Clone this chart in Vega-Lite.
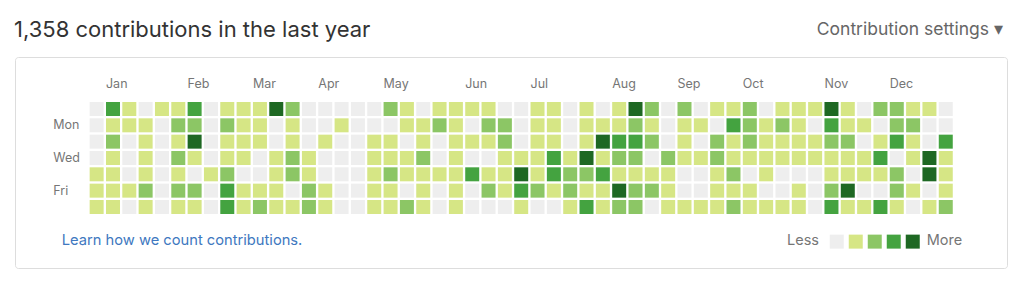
{
  "$schema": "https://vega.github.io/schema/vega-lite/v6.json",
  "width": 992,
  "height": 211,
  "autosize": {"type": "none"},
  "padding": {"left": 15, "top": 57, "right": 17, "bottom": 19},
  "background": "white",
  "config": {
    "view": {"stroke": "#dddddd", "cornerRadius": 3, "strokeWidth": 1},
    "font": "Inter"
  },
  "title": {
    "text": "1,358 contributions in the last year",
    "anchor": "start",
    "fontSize": 22,
    "fontWeight": "normal",
    "color": "#333333",
    "font": "Inter",
    "offset": -37.5,
    "baseline": "alphabetic",
    "dx": -1
  },
  "datasets": {
    "cells": [
      {"w":0,"d":0,"l":0},{"w":0,"d":1,"l":0},{"w":0,"d":2,"l":0},{"w":0,"d":3,"l":0},{"w":0,"d":4,"l":1},{"w":0,"d":5,"l":1},{"w":0,"d":6,"l":1},
      {"w":1,"d":0,"l":3},{"w":1,"d":1,"l":1},{"w":1,"d":2,"l":2},{"w":1,"d":3,"l":1},{"w":1,"d":4,"l":1},{"w":1,"d":5,"l":1},{"w":1,"d":6,"l":1},
      {"w":2,"d":0,"l":1},{"w":2,"d":1,"l":1},{"w":2,"d":2,"l":0},{"w":2,"d":3,"l":0},{"w":2,"d":4,"l":0},{"w":2,"d":5,"l":1},{"w":2,"d":6,"l":0},
      {"w":3,"d":0,"l":0},{"w":3,"d":1,"l":1},{"w":3,"d":2,"l":1},{"w":3,"d":3,"l":1},{"w":3,"d":4,"l":1},{"w":3,"d":5,"l":2},{"w":3,"d":6,"l":1},
      {"w":4,"d":0,"l":1},{"w":4,"d":1,"l":0},{"w":4,"d":2,"l":0},{"w":4,"d":3,"l":0},{"w":4,"d":4,"l":0},{"w":4,"d":5,"l":0},{"w":4,"d":6,"l":0},
      {"w":5,"d":0,"l":1},{"w":5,"d":1,"l":2},{"w":5,"d":2,"l":1},{"w":5,"d":3,"l":2},{"w":5,"d":4,"l":1},{"w":5,"d":5,"l":2},{"w":5,"d":6,"l":1},
      {"w":6,"d":0,"l":3},{"w":6,"d":1,"l":2},{"w":6,"d":2,"l":4},{"w":6,"d":3,"l":1},{"w":6,"d":4,"l":0},{"w":6,"d":5,"l":2},{"w":6,"d":6,"l":1},
      {"w":7,"d":0,"l":0},{"w":7,"d":1,"l":0},{"w":7,"d":2,"l":0},{"w":7,"d":3,"l":0},{"w":7,"d":4,"l":1},{"w":7,"d":5,"l":0},{"w":7,"d":6,"l":0},
      {"w":8,"d":0,"l":1},{"w":8,"d":1,"l":2},{"w":8,"d":2,"l":1},{"w":8,"d":3,"l":1},{"w":8,"d":4,"l":2},{"w":8,"d":5,"l":3},{"w":8,"d":6,"l":3},
      {"w":9,"d":0,"l":1},{"w":9,"d":1,"l":1},{"w":9,"d":2,"l":1},{"w":9,"d":3,"l":1},{"w":9,"d":4,"l":0},{"w":9,"d":5,"l":1},{"w":9,"d":6,"l":1},
      {"w":10,"d":0,"l":1},{"w":10,"d":1,"l":1},{"w":10,"d":2,"l":1},{"w":10,"d":3,"l":0},{"w":10,"d":4,"l":0},{"w":10,"d":5,"l":1},{"w":10,"d":6,"l":2},
      {"w":11,"d":0,"l":4},{"w":11,"d":1,"l":0},{"w":11,"d":2,"l":0},{"w":11,"d":3,"l":1},{"w":11,"d":4,"l":1},{"w":11,"d":5,"l":1},{"w":11,"d":6,"l":1},
      {"w":12,"d":0,"l":2},{"w":12,"d":1,"l":1},{"w":12,"d":2,"l":1},{"w":12,"d":3,"l":2},{"w":12,"d":4,"l":2},{"w":12,"d":5,"l":0},{"w":12,"d":6,"l":1},
      {"w":13,"d":0,"l":0},{"w":13,"d":1,"l":0},{"w":13,"d":2,"l":0},{"w":13,"d":3,"l":1},{"w":13,"d":4,"l":1},{"w":13,"d":5,"l":2},{"w":13,"d":6,"l":2},
      {"w":14,"d":0,"l":0},{"w":14,"d":1,"l":0},{"w":14,"d":2,"l":1},{"w":14,"d":3,"l":0},{"w":14,"d":4,"l":0},{"w":14,"d":5,"l":1},{"w":14,"d":6,"l":1},
      {"w":15,"d":0,"l":0},{"w":15,"d":1,"l":1},{"w":15,"d":2,"l":0},{"w":15,"d":3,"l":0},{"w":15,"d":4,"l":0},{"w":15,"d":5,"l":0},{"w":15,"d":6,"l":0},
      {"w":16,"d":0,"l":0},{"w":16,"d":1,"l":0},{"w":16,"d":2,"l":0},{"w":16,"d":3,"l":0},{"w":16,"d":4,"l":0},{"w":16,"d":5,"l":0},{"w":16,"d":6,"l":0},
      {"w":17,"d":0,"l":0},{"w":17,"d":1,"l":0},{"w":17,"d":2,"l":1},{"w":17,"d":3,"l":1},{"w":17,"d":4,"l":1},{"w":17,"d":5,"l":1},{"w":17,"d":6,"l":1},
      {"w":18,"d":0,"l":2},{"w":18,"d":1,"l":0},{"w":18,"d":2,"l":1},{"w":18,"d":3,"l":1},{"w":18,"d":4,"l":2},{"w":18,"d":5,"l":1},{"w":18,"d":6,"l":1},
      {"w":19,"d":0,"l":1},{"w":19,"d":1,"l":1},{"w":19,"d":2,"l":0},{"w":19,"d":3,"l":1},{"w":19,"d":4,"l":1},{"w":19,"d":5,"l":0},{"w":19,"d":6,"l":2},
      {"w":20,"d":0,"l":0},{"w":20,"d":1,"l":1},{"w":20,"d":2,"l":1},{"w":20,"d":3,"l":2},{"w":20,"d":4,"l":1},{"w":20,"d":5,"l":1},{"w":20,"d":6,"l":1},
      {"w":21,"d":0,"l":1},{"w":21,"d":1,"l":2},{"w":21,"d":2,"l":0},{"w":21,"d":3,"l":0},{"w":21,"d":4,"l":1},{"w":21,"d":5,"l":0},{"w":21,"d":6,"l":0},
      {"w":22,"d":0,"l":1},{"w":22,"d":1,"l":1},{"w":22,"d":2,"l":1},{"w":22,"d":3,"l":1},{"w":22,"d":4,"l":1},{"w":22,"d":5,"l":1},{"w":22,"d":6,"l":1},
      {"w":23,"d":0,"l":1},{"w":23,"d":1,"l":0},{"w":23,"d":2,"l":1},{"w":23,"d":3,"l":0},{"w":23,"d":4,"l":3},{"w":23,"d":5,"l":0},{"w":23,"d":6,"l":0},
      {"w":24,"d":0,"l":1},{"w":24,"d":1,"l":2},{"w":24,"d":2,"l":1},{"w":24,"d":3,"l":0},{"w":24,"d":4,"l":1},{"w":24,"d":5,"l":2},{"w":24,"d":6,"l":0},
      {"w":25,"d":0,"l":0},{"w":25,"d":1,"l":2},{"w":25,"d":2,"l":2},{"w":25,"d":3,"l":1},{"w":25,"d":4,"l":1},{"w":25,"d":5,"l":1},{"w":25,"d":6,"l":0},
      {"w":26,"d":0,"l":0},{"w":26,"d":1,"l":0},{"w":26,"d":2,"l":0},{"w":26,"d":3,"l":1},{"w":26,"d":4,"l":4},{"w":26,"d":5,"l":3},{"w":26,"d":6,"l":1},
      {"w":27,"d":0,"l":1},{"w":27,"d":1,"l":1},{"w":27,"d":2,"l":1},{"w":27,"d":3,"l":1},{"w":27,"d":4,"l":1},{"w":27,"d":5,"l":2},{"w":27,"d":6,"l":0},
      {"w":28,"d":0,"l":1},{"w":28,"d":1,"l":1},{"w":28,"d":2,"l":1},{"w":28,"d":3,"l":3},{"w":28,"d":4,"l":3},{"w":28,"d":5,"l":1},{"w":28,"d":6,"l":0},
      {"w":29,"d":0,"l":0},{"w":29,"d":1,"l":0},{"w":29,"d":2,"l":0},{"w":29,"d":3,"l":1},{"w":29,"d":4,"l":2},{"w":29,"d":5,"l":2},{"w":29,"d":6,"l":1},
      {"w":30,"d":0,"l":1},{"w":30,"d":1,"l":1},{"w":30,"d":2,"l":1},{"w":30,"d":3,"l":4},{"w":30,"d":4,"l":2},{"w":30,"d":5,"l":1},{"w":30,"d":6,"l":3},
      {"w":31,"d":0,"l":0},{"w":31,"d":1,"l":1},{"w":31,"d":2,"l":4},{"w":31,"d":3,"l":1},{"w":31,"d":4,"l":3},{"w":31,"d":5,"l":1},{"w":31,"d":6,"l":1},
      {"w":32,"d":0,"l":1},{"w":32,"d":1,"l":1},{"w":32,"d":2,"l":3},{"w":32,"d":3,"l":2},{"w":32,"d":4,"l":1},{"w":32,"d":5,"l":4},{"w":32,"d":6,"l":2},
      {"w":33,"d":0,"l":4},{"w":33,"d":1,"l":2},{"w":33,"d":2,"l":3},{"w":33,"d":3,"l":2},{"w":33,"d":4,"l":1},{"w":33,"d":5,"l":2},{"w":33,"d":6,"l":2},
      {"w":34,"d":0,"l":2},{"w":34,"d":1,"l":1},{"w":34,"d":2,"l":2},{"w":34,"d":3,"l":0},{"w":34,"d":4,"l":1},{"w":34,"d":5,"l":2},{"w":34,"d":6,"l":0},
      {"w":35,"d":0,"l":0},{"w":35,"d":1,"l":0},{"w":35,"d":2,"l":0},{"w":35,"d":3,"l":2},{"w":35,"d":4,"l":1},{"w":35,"d":5,"l":1},{"w":35,"d":6,"l":1},
      {"w":36,"d":0,"l":2},{"w":36,"d":1,"l":1},{"w":36,"d":2,"l":1},{"w":36,"d":3,"l":1},{"w":36,"d":4,"l":0},{"w":36,"d":5,"l":0},{"w":36,"d":6,"l":1},
      {"w":37,"d":0,"l":0},{"w":37,"d":1,"l":1},{"w":37,"d":2,"l":0},{"w":37,"d":3,"l":1},{"w":37,"d":4,"l":0},{"w":37,"d":5,"l":0},{"w":37,"d":6,"l":1},
      {"w":38,"d":0,"l":1},{"w":38,"d":1,"l":0},{"w":38,"d":2,"l":2},{"w":38,"d":3,"l":2},{"w":38,"d":4,"l":1},{"w":38,"d":5,"l":1},{"w":38,"d":6,"l":1},
      {"w":39,"d":0,"l":1},{"w":39,"d":1,"l":3},{"w":39,"d":2,"l":1},{"w":39,"d":3,"l":1},{"w":39,"d":4,"l":2},{"w":39,"d":5,"l":1},{"w":39,"d":6,"l":2},
      {"w":40,"d":0,"l":2},{"w":40,"d":1,"l":2},{"w":40,"d":2,"l":2},{"w":40,"d":3,"l":1},{"w":40,"d":4,"l":0},{"w":40,"d":5,"l":1},{"w":40,"d":6,"l":1},
      {"w":41,"d":0,"l":0},{"w":41,"d":1,"l":1},{"w":41,"d":2,"l":1},{"w":41,"d":3,"l":1},{"w":41,"d":4,"l":1},{"w":41,"d":5,"l":0},{"w":41,"d":6,"l":1},
      {"w":42,"d":0,"l":1},{"w":42,"d":1,"l":2},{"w":42,"d":2,"l":1},{"w":42,"d":3,"l":1},{"w":42,"d":4,"l":0},{"w":42,"d":5,"l":0},{"w":42,"d":6,"l":1},
      {"w":43,"d":0,"l":1},{"w":43,"d":1,"l":1},{"w":43,"d":2,"l":1},{"w":43,"d":3,"l":1},{"w":43,"d":4,"l":0},{"w":43,"d":5,"l":1},{"w":43,"d":6,"l":1},
      {"w":44,"d":0,"l":1},{"w":44,"d":1,"l":0},{"w":44,"d":2,"l":1},{"w":44,"d":3,"l":1},{"w":44,"d":4,"l":0},{"w":44,"d":5,"l":0},{"w":44,"d":6,"l":0},
      {"w":45,"d":0,"l":4},{"w":45,"d":1,"l":3},{"w":45,"d":2,"l":2},{"w":45,"d":3,"l":1},{"w":45,"d":4,"l":1},{"w":45,"d":5,"l":2},{"w":45,"d":6,"l":3},
      {"w":46,"d":0,"l":1},{"w":46,"d":1,"l":1},{"w":46,"d":2,"l":2},{"w":46,"d":3,"l":1},{"w":46,"d":4,"l":1},{"w":46,"d":5,"l":4},{"w":46,"d":6,"l":1},
      {"w":47,"d":0,"l":0},{"w":47,"d":1,"l":1},{"w":47,"d":2,"l":0},{"w":47,"d":3,"l":1},{"w":47,"d":4,"l":1},{"w":47,"d":5,"l":0},{"w":47,"d":6,"l":1},
      {"w":48,"d":0,"l":2},{"w":48,"d":1,"l":0},{"w":48,"d":2,"l":1},{"w":48,"d":3,"l":3},{"w":48,"d":4,"l":1},{"w":48,"d":5,"l":0},{"w":48,"d":6,"l":3},
      {"w":49,"d":0,"l":2},{"w":49,"d":1,"l":2},{"w":49,"d":2,"l":3},{"w":49,"d":3,"l":0},{"w":49,"d":4,"l":2},{"w":49,"d":5,"l":2},{"w":49,"d":6,"l":1},
      {"w":50,"d":0,"l":1},{"w":50,"d":1,"l":2},{"w":50,"d":2,"l":1},{"w":50,"d":3,"l":1},{"w":50,"d":4,"l":0},{"w":50,"d":5,"l":1},{"w":50,"d":6,"l":0},
      {"w":51,"d":0,"l":1},{"w":51,"d":1,"l":0},{"w":51,"d":2,"l":0},{"w":51,"d":3,"l":4},{"w":51,"d":4,"l":4},{"w":51,"d":5,"l":0},{"w":51,"d":6,"l":1},
      {"w":52,"d":0,"l":0},{"w":52,"d":1,"l":0},{"w":52,"d":2,"l":3},{"w":52,"d":3,"l":1},{"w":52,"d":4,"l":1},{"w":52,"d":5,"l":1},{"w":52,"d":6,"l":2}
    ],
    "months": [
      {"w":1,"m":"Jan"},{"w":6,"m":"Feb"},{"w":10,"m":"Mar"},{"w":14,"m":"Apr"},{"w":18,"m":"May"},{"w":23,"m":"Jun"},
      {"w":27,"m":"Jul"},{"w":32,"m":"Aug"},{"w":36,"m":"Sep"},{"w":40,"m":"Oct"},{"w":45,"m":"Nov"},{"w":49,"m":"Dec"}
    ],
    "days": [
      {"d":1,"name":"Mon"},{"d":3,"name":"Wed"},{"d":5,"name":"Fri"}
    ]
  },
  "layer": [
    {
      "data": {"name": "cells"},
      "mark": {"type": "square", "size": 196, "filled": true, "opacity": 1, "strokeWidth": 0},
      "encoding": {
        "x": {"field": "w", "type": "quantitative", "scale": {"domain": [-5, 55.75], "nice": false, "zero": false}, "axis": null},
        "y": {"field": "d", "type": "quantitative", "scale": {"domain": [-3.184, 9.737], "nice": false, "zero": false, "reverse": true}, "axis": null},
        "color": {
          "field": "l",
          "type": "ordinal",
          "scale": {"domain": [0, 1, 2, 3, 4], "range": ["#eeeeee", "#d6e685", "#8cc665", "#44a340", "#1e6823"]},
          "legend": {
            "orient": "none",
            "legendX": 772,
            "legendY": 177,
            "direction": "horizontal",
            "title": "Less",
            "titleOrient": "left",
            "titleFontSize": 14.5,
            "titleFontWeight": "normal",
            "titleColor": "#767676",
            "titleFont": "Inter",
            "titleBaseline": "middle",
            "titleAnchor": "middle",
            "titlePadding": 10.5,
            "symbolType": "square",
            "symbolSize": 196,
            "symbolStrokeWidth": 0,
            "symbolOpacity": 1,
            "labelExpr": "''",
            "labelFontSize": 14.5,
            "labelColor": "#767676",
            "labelFont": "Inter",
            "labelOffset": 3.7,
            "columnPadding": 0,
            "padding": 0
          }
        }
      }
    },
    {
      "data": {"name": "months"},
      "mark": {"type": "text", "align": "left", "baseline": "middle", "dx": -7, "fontSize": 12.5, "color": "#767676", "font": "Inter"},
      "encoding": {
        "x": {"field": "w", "type": "quantitative", "scale": {"domain": [-5, 55.75], "nice": false, "zero": false}, "axis": null},
        "y": {"datum": -1.53, "type": "quantitative", "scale": {"domain": [-3.184, 9.737], "nice": false, "zero": false, "reverse": true}, "axis": null},
        "text": {"field": "m"}
      }
    },
    {
      "data": {"name": "days"},
      "mark": {"type": "text", "align": "left", "baseline": "middle", "fontSize": 12.5, "color": "#767676", "font": "Inter"},
      "encoding": {
        "x": {"datum": -2.655, "type": "quantitative", "scale": {"domain": [-5, 55.75], "nice": false, "zero": false}, "axis": null},
        "y": {"field": "d", "type": "quantitative", "scale": {"domain": [-3.184, 9.737], "nice": false, "zero": false, "reverse": true}, "axis": null},
        "text": {"field": "name"}
      }
    },
    {
      "data": {"values": [{"t": "Learn how we count contributions."}]},
      "mark": {"type": "text", "align": "left", "baseline": "middle", "fontSize": 14.7, "color": "#4078c0", "font": "Inter"},
      "encoding": {
        "x": {"datum": -2.14, "type": "quantitative", "scale": {"domain": [-5, 55.75], "nice": false, "zero": false}, "axis": null},
        "y": {"datum": 8.065, "type": "quantitative", "scale": {"domain": [-3.184, 9.737], "nice": false, "zero": false, "reverse": true}, "axis": null},
        "text": {"field": "t"}
      }
    },
    {
      "data": {"values": [{"t": "More"}]},
      "mark": {"type": "text", "align": "left", "baseline": "middle", "fontSize": 14.5, "color": "#767676", "font": "Inter"},
      "encoding": {
        "x": {"datum": 50.83, "type": "quantitative", "scale": {"domain": [-5, 55.75], "nice": false, "zero": false}, "axis": null},
        "y": {"datum": 8.065, "type": "quantitative", "scale": {"domain": [-3.184, 9.737], "nice": false, "zero": false, "reverse": true}, "axis": null},
        "text": {"field": "t"}
      }
    },
    {
      "data": {"values": [{"t": "Contribution settings \u25be"}]},
      "mark": {"type": "text", "align": "right", "baseline": "alphabetic", "fontSize": 17.5, "color": "#666666", "font": "Inter"},
      "encoding": {
        "x": {"datum": 55.5, "type": "quantitative", "scale": {"domain": [-5, 55.75], "nice": false, "zero": false}, "axis": null},
        "y": {"datum": -4.531, "type": "quantitative", "scale": {"domain": [-3.184, 9.737], "nice": false, "zero": false, "reverse": true}, "axis": null},
        "text": {"field": "t"}
      }
    }
  ]
}
